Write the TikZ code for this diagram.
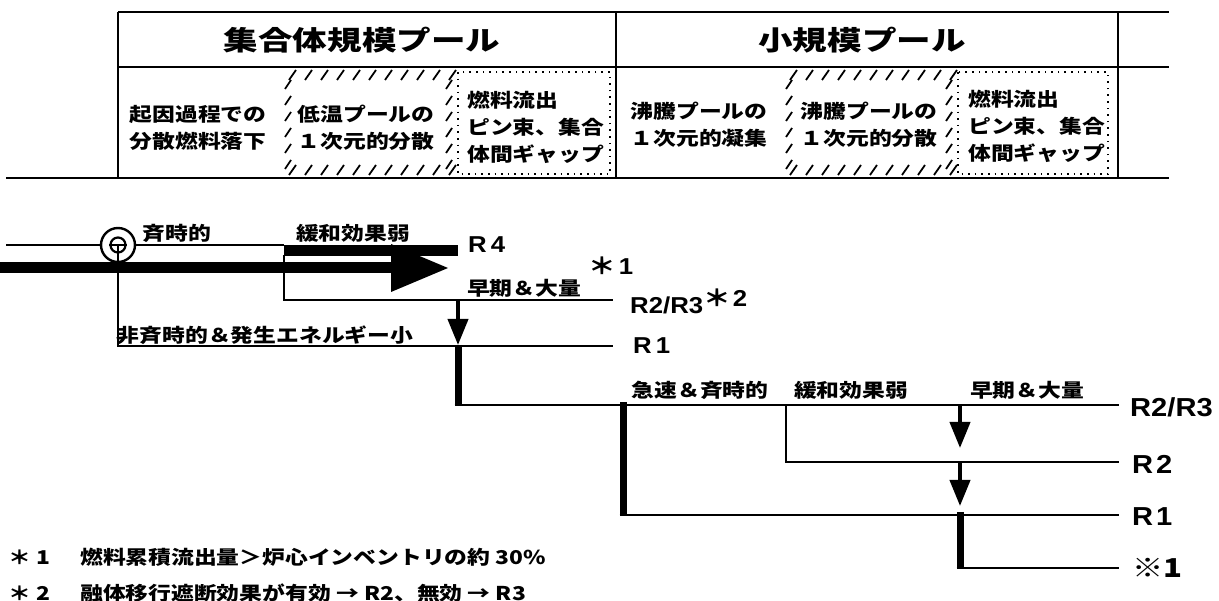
\documentclass[tikz,border=0pt]{standalone}
\usepackage{fontspec}
\newfontfamily\jp{Noto Sans CJK JP}[FakeStretch=1.2]
\newfontfamily\jph{Noto Sans CJK JP}[FakeStretch=1.28]
\newfontfamily\lat{Liberation Sans}[FakeStretch=1.12]
\usetikzlibrary{arrows.meta}
\begin{document}
\begin{tikzpicture}[x=1pt,y=-1pt,
  tline/.style={line width=2.3pt},
  thinln/.style={line width=1.9pt},
  fatln/.style={line width=7pt},
  darrow/.style={line width=4pt,-{Triangle[width=20pt,length=26pt]}},
  hatch/.style={line width=1.8pt},
  dotbox/.style={line width=1.6pt,dash pattern=on 1.6pt off 5pt},
  hdr/.style={font=\jph\bfseries\fontsize{27}{30}\selectfont,inner sep=0pt},
  sub/.style={font=\jp\bfseries\fontsize{19}{27}\selectfont,inner sep=0pt,align=left},
  subc/.style={font=\jp\bfseries\fontsize{19}{27}\selectfont,inner sep=0pt,align=center},
  lbl/.style={font=\jp\bfseries\fontsize{19}{22}\selectfont,inner sep=0pt},
  rsm/.style={font=\lat\bfseries\fontsize{23}{26}\selectfont,inner sep=0pt,anchor=west},
  rbig/.style={font=\lat\bfseries\fontsize{26}{28}\selectfont,inner sep=0pt,anchor=west},
]
\useasboundingbox (0,0) rectangle (1219,601);

% ---------------- table ----------------
\coordinate (t0) at (118,12);  \coordinate (t1) at (1169,12);
\coordinate (m0) at (118,67);  \coordinate (m1) at (1169,67);
\coordinate (b0) at (6,178);   \coordinate (b1) at (1169,178);
\coordinate (v1a) at (118,12); \coordinate (v1b) at (118,178);
\coordinate (v2a) at (616,12); \coordinate (v2b) at (616,178);
\coordinate (v3a) at (1118,12);\coordinate (v3b) at (1118,178);
\draw[tline] (t0) -- (t1);
\draw[tline] (m0) -- (m1);
\draw[tline] (b0) -- (b1);
\draw[tline] (v1a) -- (v1b);
\draw[tline] (v2a) -- (v2b);
\draw[tline] (v3a) -- (v3b);

\node[hdr] (h1) at (362,40) {集合体規模プール};
\node[hdr] (h2) at (862,40) {小規模プール};

% hatched boxes
\foreach \xa/\xb in {283/454, 784/954}{
  \foreach \i in {0,...,10}{
    \pgfmathsetmacro{\x}{\xa+9+16*\i}
    \draw[hatch] (\x-3,80) -- (\x+4,70);
    \draw[hatch] (\x-3,175) -- (\x+4,165);
  }
  \foreach \y in {84,100,...,165}{
    \draw[hatch] (\xa+2,\y+5) -- (\xa+8,\y-4);
    \draw[hatch] (\xb-8,\y+5) -- (\xb-2,\y-4);
  }
}
% dotted boxes
\draw[dotbox] (458,72) rectangle (610,174);
\draw[dotbox] (958,72) rectangle (1108,174);

\node[subc] (c1) at (198,128) {起因過程での\\分散燃料落下};
\node[subc] (c2) at (366,128) {低温プールの\\１次元的分散};
\node[sub,anchor=west] (c3) at (467,127) {燃料流出\\ピン束、集合\\体間ギャップ};
\node[subc] (c4) at (699,125) {沸騰プールの\\１次元的凝集};
\node[subc] (c5) at (869,125) {沸騰プールの\\１次元的分散};
\node[sub,anchor=west] (c6) at (968,126) {燃料流出\\ピン束、集合\\体間ギャップ};

% ---------------- event tree ----------------
\coordinate (L0) at (6,245);
\coordinate (O)  at (118,245);
\coordinate (B0) at (284,250.5);
\coordinate (B1) at (458,250.5);
\coordinate (A0) at (0,268);
\coordinate (A1) at (393,268);
\coordinate (Ha) at (391,244);
\coordinate (Hb) at (448,268);
\coordinate (Hc) at (391,292);
\coordinate (V0) at (284,255);
\coordinate (V1) at (284,300);
\coordinate (S1) at (613,300);
\coordinate (J1) at (458,300);
\coordinate (J1t) at (458,345);
\coordinate (H0) at (118,346);
\coordinate (H1) at (613,346);
\coordinate (J2) at (458,345);
\coordinate (J3) at (458,405);
\coordinate (E1) at (1119,405);
\coordinate (K0) at (623,402);
\coordinate (K1) at (623,515);
\coordinate (M0) at (786,405);
\coordinate (M1) at (786,462);
\coordinate (E2) at (1119,462);
\coordinate (P0) at (960,405);
\coordinate (P1) at (960,448);
\coordinate (Q0) at (960,462);
\coordinate (Q1) at (960,506);
\coordinate (E3) at (1119,515);
\coordinate (N0) at (960,512);
\coordinate (N1) at (960,568);
\coordinate (E4) at (1119,568);

% top thin line and upper bar
\draw[thinln] (L0) -- (B0 |- L0);
\draw[line width=11pt] (B0) -- (B1);
% big arrow
\draw[line width=11pt] (A0) -- (A1);
\fill (Ha) -- (Hb) -- (Hc) -- cycle;
% branch early & large
\draw[thinln] (V0) -- (V1) -- (S1);
\draw[darrow] (J1) -- (J1t);
% non-simultaneous branch
\draw[thinln] (O) -- (H0) -- (H1);
% double circle
\node[circle,draw,line width=2.4pt,fill=white,minimum size=34pt,inner sep=0pt] (oc) at (O) {};
\node[circle,draw,line width=2.2pt,minimum size=15pt,inner sep=0pt] (oi) at (O) {};
\draw[line width=1.6pt] (oi.west) -- (oi.east);
\draw[line width=1.6pt] (oi.center) -- (oc.south);
% lower part
\draw[fatln] (J2) -- (J3);
\draw[thinln] ([xshift=-3.5pt]J3) -- (E1);
\draw[fatln] (K0) -- (K1);
\draw[thinln] (M0) -- (M1) -- (E2);
\draw[darrow] (P0) -- (P1);
\draw[darrow] (Q0) -- (Q1);
\draw[thinln] ([xshift=-3.5pt]K1) -- (E3);
\draw[fatln] (N0) -- (N1);
\draw[thinln] ([xshift=-3.5pt]N1) -- (E4);

% labels
\node[lbl] (seiji) at (177,233) {斉時的};
\node[lbl] (kanwa1) at (353,233) {緩和効果弱};
\node[lbl] (hisei) at (265,335) {非斉時的＆発生エネルギー小};
\node[lbl] (soki1) at (524,288) {早期＆大量};
\node[rsm] (r4) at (468,245) {R\hspace{4pt}4};
\node[rsm] (st1) at (588,266) {{\jp ＊}\hspace{3pt}1};
\node[rsm] (r23a) at (630,301) {R2/R3\raisebox{7pt}{{\jp ＊}\hspace{2pt}2}};
\node[rsm] (r1a) at (633,346) {R\hspace{4pt}1};

\node[lbl] (kyu) at (700,390) {急速＆斉時的};
\node[lbl] (kanwa2) at (851,390) {緩和効果弱};
\node[lbl] (soki2) at (1027,390) {早期＆大量};
\node[rbig] (r23b) at (1130,407) {R2/R3};
\node[rbig] (r2b) at (1132,464) {R\hspace{3pt}2};
\node[rbig] (r1b) at (1132,517) {R\hspace{3pt}1};
\node[rbig,font=\jp\bfseries\fontsize{26}{28}\selectfont] (kome) at (1132,568) {※1};

% footnotes
\node[lbl,anchor=west] (fn1m) at (8,557) {＊\hspace{6pt}1};
\node[lbl,anchor=west] (fn1) at (80,557) {燃料累積流出量＞炉心インベントリの約 30\%};
\node[lbl,anchor=west] (fn2m) at (8,593) {＊\hspace{6pt}2};
\node[lbl,anchor=west] (fn2) at (80,593) {融体移行遮断効果が有効 → R2、無効 → R3};
\end{tikzpicture}
\end{document}
